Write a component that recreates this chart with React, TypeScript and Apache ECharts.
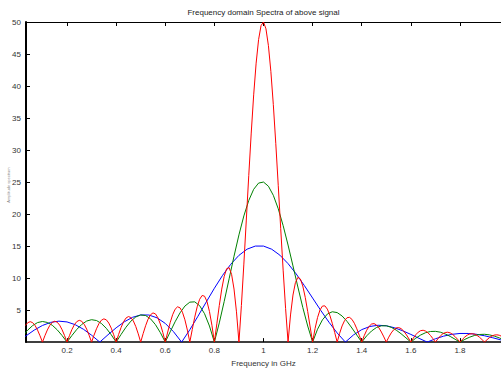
import React, { useEffect, useRef } from 'react';
import * as echarts from 'echarts';

const titleText = 'Frequency domain Spectra of above signal';
const xAxisName = 'Frequency in GHz';
const yAxisName = 'Amplitude spectrum';

const xTickValues = [0.2, 0.4, 0.6, 0.8, 1.0, 1.2, 1.4, 1.6, 1.8];
const yTickValues = [5, 10, 15, 20, 25, 30, 35, 40, 45, 50];

// red: 10 ns pulse, sampled from 0.03 GHz every 0.01 GHz
const redStart = 0.03;
const redStep = 0.01;
const redAmplitude = [
  2.58, 3.03, 3.19, 3.04, 2.59, 1.88, 0.99,
  0, 1.00, 1.90, 2.62, 3.09, 3.26, 3.11, 2.65, 1.93, 1.02,
  0, 1.03, 1.97, 2.72, 3.21, 3.40, 3.25, 2.78, 2.03, 1.07,
  0, 1.09, 2.08, 2.89, 3.42, 3.63, 3.48, 2.98, 2.19, 1.16,
  0, 1.18, 2.27, 3.16, 3.75, 3.99, 3.84, 3.31, 2.43, 1.29,
  0, 1.33, 2.56, 3.58, 4.27, 4.56, 4.41, 3.81, 2.82, 1.51,
  0, 1.57, 3.04, 4.27, 5.13, 5.51, 5.36, 4.67, 3.48, 1.88,
  0, 1.98, 3.89, 5.51, 6.69, 7.28, 7.17, 6.33, 4.78, 2.62,
  0, 2.86, 5.71, 8.28, 10.28, 11.47, 11.63, 10.59, 8.29, 4.73,
  0, 5.72, 12.18, 19.06, 26.01, 32.65, 38.62, 43.57, 47.25, 49.43,
  50, 48.93, 46.31, 42.28, 37.10, 31.05, 24.49, 17.77, 11.24, 5.23,
  0, 4.24, 7.35, 9.30, 10.11, 9.87, 8.76, 6.98, 4.77, 2.36,
  0, 2.12, 3.83, 5.02, 5.63, 5.66, 5.15, 4.20, 2.93, 1.48,
  0, 1.37, 2.52, 3.35, 3.81, 3.87, 3.56, 2.94, 2.07, 1.06,
  0, 1.00, 1.84, 2.46, 2.82, 2.89, 2.68, 2.22, 1.57, 0.81,
  0, 0.77, 1.43, 1.92, 2.21, 2.27, 2.11, 1.76, 1.25, 0.64,
  0, 0.62, 1.15, 1.55, 1.79, 1.85, 1.72, 1.44, 1.03, 0.53,
  0, 0.51, 0.96, 1.29, 1.49, 1.54, 1.44, 1.21, 0.86, 0.45,
  0, 0.43, 0.81, 1.10, 1.27, 1.31, 1.23, 1.03, 0.74, 0.38,
  0, 0.37, 0.70, 0.95, 1.10, 1.14, 1.07, 0.89, 0.64, 0.33,
  0,
];

// green: 5 ns pulse, sampled from 0.02 GHz every 0.02 GHz
const greenStart = 0.02;
const greenStep = 0.02;
const greenAmplitude = [
  0.98, 1.87, 2.58, 3.05, 3.22, 3.07, 2.63, 1.92, 1.02, 0,
  1.03, 1.99, 2.76, 3.29, 3.50, 3.37, 2.91, 2.15, 1.15, 0,
  1.19, 2.32, 3.27, 3.93, 4.24, 4.15, 3.64, 2.73, 1.48, 0,
  1.60, 3.17, 4.56, 5.63, 6.24, 6.29, 5.69, 4.43, 2.51, 0,
  3.00, 6.36, 9.89, 13.42, 16.75, 19.71, 22.12, 23.87, 24.84, 25,
  24.35, 22.93, 20.83, 18.19, 15.16, 11.90, 8.60, 5.41, 2.51, 0,
  2.01, 3.48, 4.38, 4.74, 4.61, 4.08, 3.24, 2.20, 1.09, 0,
  0.97, 1.74, 2.28, 2.54, 2.55, 2.31, 1.88, 1.31, 0.66, 0,
  0.61, 1.11, 1.47, 1.66, 1.68, 1.55, 1.27, 0.89, 0.45, 0,
  0.43, 0.78, 1.05, 1.19, 1.22, 1.13, 0.93, 0.66, 0.34, 0,
];

// blue: 3 ns pulse
const blueFreq = [
  0, 0.0333, 0.0667, 0.1, 0.1333, 0.1667, 0.2, 0.2333, 0.2667, 0.3,
  0.3333, 0.3667, 0.4, 0.4333, 0.4667, 0.5, 0.5333, 0.5667, 0.6, 0.6333,
  0.6667, 0.7, 0.7333, 0.7667, 0.8, 0.8333, 0.8667, 0.9, 0.9333, 0.9667,
  1.0, 1.0333, 1.0667, 1.1, 1.1333, 1.1667, 1.2, 1.2333, 1.2667, 1.3,
  1.3333, 1.3667, 1.4, 1.4333, 1.4667, 1.5, 1.5333, 1.5667, 1.6, 1.6333,
  1.6667, 1.7, 1.7333, 1.7667, 1.8, 1.8333, 1.8667, 1.9, 1.9333, 1.9667,
  2.0,
];
const blueAmplitude = [
  0, 0.98, 1.88, 2.60, 3.08, 3.27, 3.15, 2.72, 2.01, 1.08,
  0, 1.14, 2.23, 3.17, 3.87, 4.24, 4.23, 3.79, 2.92, 1.64,
  0, 1.93, 4.05, 6.25, 8.41, 10.42, 12.16, 13.55, 14.52, 15.00,
  15, 14.51, 13.58, 12.26, 10.64, 8.81, 6.88, 4.94, 3.10, 1.43,
  0, 1.13, 1.95, 2.44, 2.63, 2.55, 2.24, 1.77, 1.20, 0.59,
  0, 0.52, 0.93, 1.21, 1.35, 1.35, 1.22, 0.99, 0.68, 0.34,
  0,
];

const FONT = '"Liberation Sans", Arial, Helvetica, sans-serif';

export default function App() {
  const ref = useRef<HTMLDivElement>(null);

  useEffect(() => {
    document.body.style.margin = '0';
    if (!ref.current) return;
    const chart = echarts.init(ref.current, null, { renderer: 'svg' });

    const redData = redAmplitude.map((v, i) => [+(redStart + i * redStep).toFixed(2), v]);
    const greenData = greenAmplitude.map((v, i) => [+(greenStart + i * greenStep).toFixed(2), v]);
    const blueData = blueAmplitude.map((v, i) => [blueFreq[i], v]);

    const labelStyle = { color: '#333', fontSize: 8, fontFamily: FONT };

    chart.setOption({
      animation: false,
      backgroundColor: '#ffffff',
      grid: { left: 26, right: 0, top: 22, bottom: 25, containLabel: false },
      xAxis: [
        {
          type: 'value',
          position: 'bottom',
          min: 0.033,
          max: 1.967,
          name: xAxisName,
          nameLocation: 'middle',
          nameGap: 12,
          nameTextStyle: { color: '#333', fontSize: 8, fontFamily: FONT },
          axisLine: { show: true, onZero: false, lineStyle: { color: '#000', width: 1.5 } },
          axisTick: { show: true, inside: true, length: 4, customValues: xTickValues, lineStyle: { color: '#000', width: 1 } },
          axisLabel: { show: true, margin: 4, customValues: xTickValues, ...labelStyle, formatter: (v: number) => String(+v.toFixed(1)) },
          splitLine: { show: false },
        },
        {
          type: 'value',
          position: 'top',
          min: 0.033,
          max: 1.967,
          axisLine: { show: true, onZero: false, lineStyle: { color: '#000', width: 1 } },
          axisTick: { show: true, inside: true, length: 4, customValues: xTickValues, lineStyle: { color: '#000', width: 1 } },
          axisLabel: { show: false },
          splitLine: { show: false },
        },
      ],
      yAxis: {
        type: 'value',
        min: 0,
        max: 50,
        interval: 5,
        axisLine: { show: true, onZero: false, lineStyle: { color: '#000', width: 2 } },
        axisTick: { show: true, inside: true, length: 4, customValues: yTickValues, lineStyle: { color: '#000', width: 1 } },
        axisLabel: { show: true, margin: 5, customValues: yTickValues, ...labelStyle },
        splitLine: { show: false },
      },
      graphic: [
        {
          type: 'text',
          x: 263.5,
          y: 12,
          style: { text: titleText, fill: '#222', fontSize: 8, fontFamily: FONT, textAlign: 'center', textVerticalAlign: 'middle' },
        },
        {
          type: 'text',
          x: 8,
          y: 185,
          rotation: Math.PI / 2,
          style: { text: yAxisName, fill: '#888', fontSize: 4, fontFamily: FONT, textAlign: 'center', textVerticalAlign: 'middle' },
        },
      ],
      series: [
        {
          type: 'line',
          data: blueData,
          showSymbol: false,
          symbol: 'none',
          lineStyle: { color: '#0000ff', width: 1 },
          itemStyle: { color: '#0000ff' },
        },
        {
          type: 'line',
          data: greenData,
          showSymbol: false,
          symbol: 'none',
          lineStyle: { color: '#008000', width: 1 },
          itemStyle: { color: '#008000' },
        },
        {
          type: 'line',
          data: redData,
          showSymbol: false,
          symbol: 'none',
          lineStyle: { color: '#ff0000', width: 1 },
          itemStyle: { color: '#ff0000' },
        },
      ],
    });

    return () => chart.dispose();
  }, []);

  return <div ref={ref} style={{ width: 501, height: 372, position: 'absolute', left: 0, top: 0 }} />;
}
